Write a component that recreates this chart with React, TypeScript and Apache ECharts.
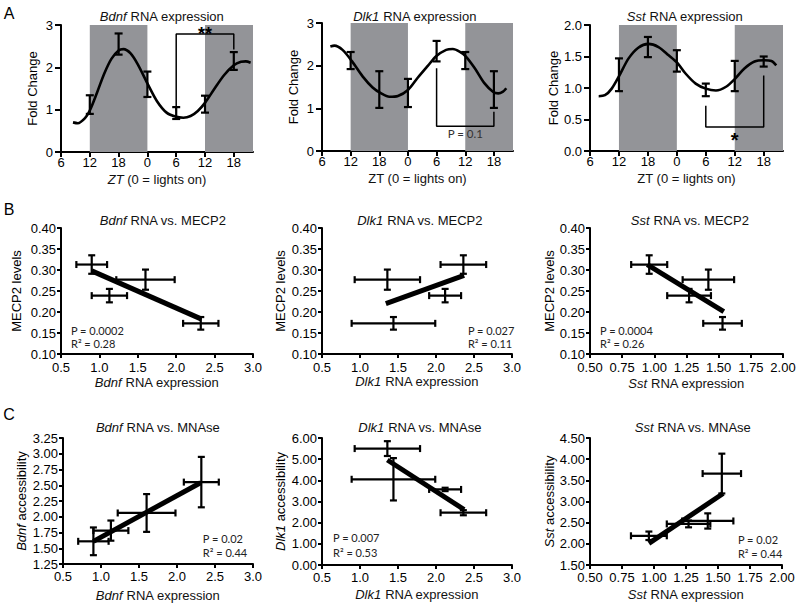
import React, { useEffect, useRef } from 'react';
import * as echarts from 'echarts';

// ---------- Panel A: RNA time course (hours counted from ZT6 of day 1) ----------
const sampleHours = [6, 12, 18, 24, 30, 36];
const ztTickHours = [0, 6, 12, 18, 24, 30, 36];
const ztTickLabels = ['6', '12', '18', '0', '6', '12', '18'];
const darkPhases = [[6, 18], [30, 40]];

const bdnfMean = [1.12, 2.55, 1.6, 0.92, 1.13, 2.15];
const bdnfSem = [0.22, 0.25, 0.3, 0.14, 0.2, 0.21];
const dlk1Mean = [2.12, 1.44, 1.36, 2.34, 2.12, 1.44];
const dlk1Sem = [0.2, 0.43, 0.33, 0.24, 0.2, 0.43];
const sstMean = [1.21, 1.65, 1.43, 0.97, 1.19, 1.42];
const sstSem = [0.26, 0.16, 0.17, 0.1, 0.24, 0.08];

// fitted rhythm curves
const bdnfFitHours = [2.5, 3.5, 5, 6, 7.5, 9, 10.5, 12, 13, 14.5, 16, 18, 20, 22, 24, 25.5, 27, 28.5, 30, 32, 34, 36, 37.5, 38.5, 39.5];
const bdnfFitValues = [0.7, 0.68, 0.8, 0.98, 1.4, 1.85, 2.2, 2.4, 2.43, 2.33, 2.07, 1.62, 1.2, 0.93, 0.83, 0.81, 0.85, 0.97, 1.16, 1.5, 1.82, 2.05, 2.13, 2.14, 2.11];
const dlk1FitHours = [1.75, 2.6, 4.3, 6.3, 8.5, 10.6, 12.4, 14.1, 15.9, 18, 20, 22.2, 23.9, 26, 27.4, 28.8, 30.1, 32, 34, 35.8, 36.9, 37.9, 38.6];
const dlk1FitValues = [2.45, 2.47, 2.37, 2.1, 1.75, 1.49, 1.35, 1.27, 1.29, 1.43, 1.71, 2.0, 2.22, 2.37, 2.39, 2.33, 2.22, 1.94, 1.59, 1.39, 1.35, 1.39, 1.47];
const sstFitHours = [1.8, 3.1, 4.5, 6.1, 8, 10, 12.1, 14.2, 16.3, 18.1, 19.8, 21.9, 24, 26.1, 28.2, 30.1, 32, 34.1, 36.1, 37.6, 38.6];
const sstFitValues = [0.87, 0.885, 0.99, 1.2, 1.47, 1.64, 1.7, 1.65, 1.52, 1.4, 1.23, 1.07, 0.99, 0.96, 1.02, 1.15, 1.31, 1.42, 1.44, 1.43, 1.36];

// ---------- Panels B and C: per time point (ZT6, ZT12, ZT0, ZT18) ----------
const mecp2Level = [0.313, 0.239, 0.277, 0.173];
const mecp2Sem = [0.022, 0.016, 0.024, 0.015];
const bdnfRna = [0.9, 1.13, 1.6, 2.32];
const bdnfRnaSem = [0.2, 0.23, 0.38, 0.23];
const dlk1Rna = [2.36, 2.12, 1.36, 1.44];
const dlk1RnaSem = [0.3, 0.21, 0.43, 0.55];
const sstRna = [0.96, 1.27, 1.42, 1.53];
const sstRnaSem = [0.14, 0.17, 0.2, 0.15];
const bdnfAccess = [1.61, 1.78, 2.06, 2.55];
const bdnfAccessSem = [0.22, 0.16, 0.3, 0.4];
const dlk1Access = [2.47, 3.57, 5.5, 4.05];
const dlk1AccessSem = [0.12, 0.08, 0.35, 1.0];
const sstAccess = [2.19, 2.47, 2.54, 3.66];
const sstAccessSem = [0.1, 0.08, 0.18, 0.47];

// regression lines (end points)
const bdnfMecp2FitX = [0.9, 2.33];
const bdnfMecp2FitY = [0.298, 0.183];
const dlk1Mecp2FitX = [1.34, 2.37];
const dlk1Mecp2FitY = [0.22, 0.287];
const sstMecp2FitX = [0.945, 1.54];
const sstMecp2FitY = [0.313, 0.201];
const bdnfMnaseFitX = [0.9, 2.31];
const bdnfMnaseFitY = [1.61, 2.54];
const dlk1MnaseFitX = [1.36, 2.37];
const dlk1MnaseFitY = [4.96, 2.62];
const sstMnaseFitX = [0.96, 1.54];
const sstMnaseFitY = [2.01, 3.19];

const FONT = '"Liberation Sans", Arial, sans-serif';
const STAT_FONT = 'Lato, "Open Sans", sans-serif';
const BAND = '#939498';

const italicRich = (size: number) => ({ i: { fontStyle: 'italic', fontWeight: 'normal', fontSize: size, fontFamily: FONT, color: '#000' } });

const timePanels = [
  {
    gene: 'Bdnf', grid: { left: 61, top: 25, width: 192, height: 127 },
    mean: bdnfMean, sem: bdnfSem, fitH: bdnfFitHours, fitV: bdnfFitValues,
    yMax: 3, yInt: 1, yDec: 0, yGap: 22, title: [162, 16], ztItalic: true, xNameY: 179,
    bracket: [[24, 0.98], [24, 2.79], [36, 2.79], [36, 2.42]],
    mark: { text: '**', at: [30, 2.78], size: 18, bold: true },
  },
  {
    gene: 'Dlk1', grid: { left: 322, top: 23, width: 191, height: 128 },
    mean: dlk1Mean, sem: dlk1Sem, fitH: dlk1FitHours, fitV: dlk1FitValues,
    yMax: 3, yInt: 1, yDec: 0, yGap: 22, title: [415, 16], ztItalic: false, xNameY: 178.5,
    bracket: [[24, 1.94], [24, 0.58], [36, 0.58], [36, 0.92]],
    mark: { text: 'P = 0.1', at: [30, 0.41], size: 11.5, bold: false },
  },
  {
    gene: 'Sst', grid: { left: 590, top: 25, width: 193, height: 126 },
    mean: sstMean, sem: sstSem, fitH: sstFitHours, fitV: sstFitValues,
    yMax: 2, yInt: 0.5, yDec: 1, yGap: 30, title: [685, 16], ztItalic: false, xNameY: 178,
    bracket: [[24, 0.72], [24, 0.38], [36, 0.38], [36, 1.2]],
    mark: { text: '*', at: [30, 0.175], size: 20, bold: true },
  },
];

const scatterPanels = [
  { gene: 'Bdnf', vs: 'MECP2', grid: { left: 61, top: 228, width: 192, height: 126 }, x: bdnfRna, xe: bdnfRnaSem, y: mecp2Level, ye: mecp2Sem, fx: bdnfMecp2FitX, fy: bdnfMecp2FitY,
    xMin: 0.5, xMax: 3, xInt: 0.5, xDec: 1, yMin: 0.1, yMax: 0.4, yInt: 0.05, yDec: 2, yName: 'MECP2 levels', yGap: 38, xNameY: 382, xMargin: 7,
    p: 'P = 0.0002', r2: 'R\u00b2 = 0.28', statAt: [0.63, 0.157, 0.126], title: [163, 220] },
  { gene: 'Dlk1', vs: 'MECP2', grid: { left: 322, top: 228, width: 190, height: 126 }, x: dlk1Rna, xe: dlk1RnaSem, y: mecp2Level, ye: mecp2Sem, fx: dlk1Mecp2FitX, fy: dlk1Mecp2FitY,
    xMin: 0.5, xMax: 3, xInt: 0.5, xDec: 1, yMin: 0.1, yMax: 0.4, yInt: 0.05, yDec: 2, yName: 'MECP2 levels', yGap: 35, xNameY: 381.5, xMargin: 7,
    p: 'P = 0.027', r2: 'R\u00b2 = 0.11', statAt: [2.42, 0.157, 0.126], title: [420, 220] },
  { gene: 'Sst', vs: 'MECP2', grid: { left: 590, top: 228, width: 193, height: 126 }, x: sstRna, xe: sstRnaSem, y: mecp2Level, ye: mecp2Sem, fx: sstMecp2FitX, fy: sstMecp2FitY,
    xMin: 0.5, xMax: 2, xInt: 0.25, xDec: 2, yMin: 0.1, yMax: 0.4, yInt: 0.05, yDec: 2, yName: 'MECP2 levels', yGap: 34, xNameY: 383, xMargin: 7,
    p: 'P = 0.0004', r2: 'R\u00b2 = 0.26', statAt: [0.578, 0.157, 0.126], title: [690, 220] },
  { gene: 'Bdnf', vs: 'MNAse', grid: { left: 63, top: 438, width: 190, height: 126 }, x: bdnfRna, xe: bdnfRnaSem, y: bdnfAccess, ye: bdnfAccessSem, fx: bdnfMnaseFitX, fy: bdnfMnaseFitY,
    xMin: 0.5, xMax: 3, xInt: 0.5, xDec: 1, yMin: 1.25, yMax: 3.25, yInt: 0.25, yDec: 2, yName: '{i|Bdnf} accessibility', yGap: 35, xNameY: 595, xMargin: 6,
    p: 'P = 0.02', r2: 'R\u00b2 = 0.44', statAt: [2.34, 1.66, 1.44], title: [158, 427] },
  { gene: 'Dlk1', vs: 'MNAse', grid: { left: 322, top: 438, width: 190, height: 127 }, x: dlk1Rna, xe: dlk1RnaSem, y: dlk1Access, ye: dlk1AccessSem, fx: dlk1MnaseFitX, fy: dlk1MnaseFitY,
    xMin: 0.5, xMax: 3, xInt: 0.5, xDec: 1, yMin: 0, yMax: 6, yInt: 1, yDec: 2, yName: '{i|Dlk1} accessibility', yGap: 35, xNameY: 594, xMargin: 6,
    p: 'P = 0.007', r2: 'R\u00b2 = 0.53', statAt: [0.645, 1.28, 0.61], title: [420, 427] },
  { gene: 'Sst', vs: 'MNAse', grid: { left: 590, top: 438, width: 192, height: 127 }, x: sstRna, xe: sstRnaSem, y: sstAccess, ye: sstAccessSem, fx: sstMnaseFitX, fy: sstMnaseFitY,
    xMin: 0.5, xMax: 2, xInt: 0.25, xDec: 2, yMin: 1.5, yMax: 4.5, yInt: 0.5, yDec: 2, yName: '{i|Sst} accessibility', yGap: 32, xNameY: 594, xMargin: 6,
    p: 'P = 0.02', r2: 'R\u00b2 = 0.44', statAt: [1.656, 2.11, 1.78], title: [693, 427] },
];

function errorBarSeries(idx: number, pts: number[][], cap: number) {
  return {
    type: 'custom', xAxisIndex: idx, yAxisIndex: idx, coordinateSystem: 'cartesian2d',
    data: pts, encode: { x: 0, y: 1 }, z: 4, silent: true,
    renderItem: (params: any, api: any) => {
      const x = api.value(0), y = api.value(1), ex = api.value(2), ey = api.value(3);
      const c = api.coord([x, y]);
      const st = { stroke: '#000', lineWidth: 2.2 };
      const ch: any[] = [];
      if (ey > 0) {
        const t = api.coord([x, y + ey]), b = api.coord([x, y - ey]);
        ch.push({ type: 'line', shape: { x1: c[0], y1: t[1], x2: c[0], y2: b[1] }, style: st });
        ch.push({ type: 'line', shape: { x1: c[0] - cap, y1: t[1], x2: c[0] + cap, y2: t[1] }, style: st });
        ch.push({ type: 'line', shape: { x1: c[0] - cap, y1: b[1], x2: c[0] + cap, y2: b[1] }, style: st });
      }
      if (ex > 0) {
        const l = api.coord([x - ex, y]), r = api.coord([x + ex, y]);
        ch.push({ type: 'line', shape: { x1: l[0], y1: c[1], x2: r[0], y2: c[1] }, style: st });
        ch.push({ type: 'line', shape: { x1: l[0], y1: c[1] - cap, x2: l[0], y2: c[1] + cap }, style: st });
        ch.push({ type: 'line', shape: { x1: r[0], y1: c[1] - cap, x2: r[0], y2: c[1] + cap }, style: st });
      }
      return { type: 'group', children: ch };
    },
  };
}

function textSeries(idx: number, items: { at: number[]; text: string; size: number; bold: boolean; font: string; color: string; align: string }[]) {
  return {
    type: 'custom', xAxisIndex: idx, yAxisIndex: idx, coordinateSystem: 'cartesian2d',
    data: items.map((it) => [it.at[0], it.at[1]]), encode: { x: 0, y: 1 }, z: 6, silent: true,
    renderItem: (params: any, api: any) => {
      const it = items[params.dataIndex];
      const c = api.coord([api.value(0), api.value(1)]);
      return {
        type: 'text', x: c[0], y: c[1],
        style: { text: it.text, fill: it.color, fontSize: it.size, fontFamily: it.font, fontWeight: it.bold ? 'bold' : 'normal', align: it.align, verticalAlign: 'middle' },
      };
    },
  };
}

function labelText(x: number, y: number, text: string, size: number, color: string) {
  return {
    type: 'text', x, y,
    style: { text, fontSize: size, fontFamily: FONT, fontWeight: 'normal', fill: color, align: 'center', verticalAlign: 'middle',
      rich: { i: { fontStyle: 'italic', fontWeight: 'normal', fontSize: size, fontFamily: FONT, fill: color } } },
  };
}

const axisLineStyle = { lineStyle: { color: '#000', width: 2 } };

function buildOption() {
  const grid: any[] = [], xAxis: any[] = [], yAxis: any[] = [], series: any[] = [], elements: any[] = [];
  let idx = 0;

  timePanels.forEach((p) => {
    const i = idx++;
    grid.push({ ...p.grid, containLabel: false, outerBoundsMode: 'none' });
    xAxis.push({
      type: 'value', gridIndex: i, min: 0, max: 40, interval: 6,
      axisLine: axisLineStyle, splitLine: { show: false },
      axisTick: { length: 5, lineStyle: { width: 2, color: '#000' }, customValues: ztTickHours },
      axisLabel: { fontSize: 13, fontFamily: FONT, color: '#000', margin: 4, customValues: ztTickHours,
        formatter: (v: number) => { const k = ztTickHours.indexOf(v); return k >= 0 ? ztTickLabels[k] : ''; } },
    });
    yAxis.push({
      type: 'value', gridIndex: i, min: 0, max: p.yMax, interval: p.yInt,
      name: 'Fold Change', nameLocation: 'middle', nameGap: p.yGap, nameRotate: 90,
      nameTextStyle: { fontSize: 13, fontWeight: 'normal', fontFamily: FONT, color: '#000' },
      axisLine: { show: true, ...axisLineStyle }, splitLine: { show: false },
      axisTick: { show: true, length: 6, lineStyle: { width: 2, color: '#000' } },
      axisLabel: { fontSize: 13, fontFamily: FONT, color: '#000', margin: 8, formatter: (v: number) => v.toFixed(p.yDec) },
    });
    // dark phase bands
    series.push({
      type: 'custom', xAxisIndex: i, yAxisIndex: i, coordinateSystem: 'cartesian2d', z: 1, silent: true,
      data: darkPhases, encode: { x: [0, 1] },
      renderItem: (params: any, api: any) => {
        const a = api.coord([api.value(0), p.yMax]);
        const b = api.coord([api.value(1), 0]);
        return { type: 'rect', shape: { x: a[0], y: a[1], width: b[0] - a[0], height: b[1] - a[1] }, style: { fill: BAND } };
      },
    });
    series.push({
      type: 'line', xAxisIndex: i, yAxisIndex: i, z: 3, smooth: 0.3, showSymbol: false, symbol: 'none', silent: true,
      data: p.fitH.map((h, k) => [h, p.fitV[k]]), lineStyle: { color: '#000', width: 2.6 },
    });
    series.push(errorBarSeries(i, sampleHours.map((h, k) => [h, p.mean[k], 0, p.sem[k]]), 4));
    series.push({
      type: 'line', xAxisIndex: i, yAxisIndex: i, z: 5, showSymbol: false, symbol: 'none', silent: true,
      data: p.bracket, lineStyle: { color: '#000', width: 1.5 },
    });
    series.push(textSeries(i, [{ at: p.mark.at, text: p.mark.text, size: p.mark.size, bold: p.mark.bold,
      font: p.mark.bold ? FONT : STAT_FONT, color: p.mark.bold ? '#000' : '#333', align: 'center' }]));
    elements.push(labelText(p.title[0], p.title[1], `{i|${p.gene}} RNA expression`, 13, '#111'));
    elements.push(labelText(p.grid.left + p.grid.width / 2, p.xNameY, p.ztItalic ? '{i|ZT} (0 = lights on)' : 'ZT (0 = lights on)', 13, '#111'));
  });

  scatterPanels.forEach((p) => {
    const i = idx++;
    grid.push({ ...p.grid, containLabel: false, outerBoundsMode: 'none' });
    xAxis.push({
      type: 'value', gridIndex: i, min: p.xMin, max: p.xMax, interval: p.xInt,
      axisLine: axisLineStyle, splitLine: { show: false },
      axisTick: { length: 4, lineStyle: { width: 2, color: '#000' } },
      axisLabel: { fontSize: 13, fontFamily: FONT, color: '#000', margin: p.xMargin, formatter: (v: number) => v.toFixed(p.xDec) },
    });
    yAxis.push({
      type: 'value', gridIndex: i, min: p.yMin, max: p.yMax, interval: p.yInt,
      name: p.yName, nameLocation: 'middle', nameGap: p.yGap, nameRotate: 90,
      nameTextStyle: { fontSize: 13, fontWeight: 'normal', fontFamily: FONT, color: '#000', rich: italicRich(13) },
      axisLine: { show: true, ...axisLineStyle }, splitLine: { show: false },
      axisTick: { show: true, length: 4, lineStyle: { width: 2, color: '#000' } },
      axisLabel: { fontSize: 13, fontFamily: FONT, color: '#000', margin: 5, formatter: (v: number) => v.toFixed(p.yDec) },
    });
    series.push(errorBarSeries(i, p.x.map((xv, k) => [xv, p.y[k], p.xe[k], p.ye[k]]), 3.5));
    series.push({
      type: 'line', xAxisIndex: i, yAxisIndex: i, z: 5, showSymbol: false, symbol: 'none', silent: true,
      data: p.fx.map((xv, k) => [xv, p.fy[k]]), lineStyle: { color: '#000', width: 5, cap: 'butt' },
    });
    series.push(textSeries(i, [
      { at: [p.statAt[0], p.statAt[1]], text: p.p, size: 11, bold: false, font: STAT_FONT, color: '#222', align: 'left' },
      { at: [p.statAt[0], p.statAt[2]], text: p.r2, size: 11, bold: false, font: STAT_FONT, color: '#222', align: 'left' },
    ]));
    elements.push(labelText(p.title[0], p.title[1], `{i|${p.gene}} RNA vs. ${p.vs}`, 13, '#111'));
    elements.push(labelText(p.grid.left + p.grid.width / 2, p.xNameY, `{i|${p.gene}} RNA expression`, 13, '#111'));
  });

  [['A', 13], ['B', 209], ['C', 414]].forEach(([t, y]) => {
    elements.push({ type: 'text', x: 9, y: y as number,
      style: { text: t as string, fontSize: 16, fontFamily: FONT, fill: '#000', align: 'center', verticalAlign: 'middle' } });
  });

  return {
    animation: false,
    backgroundColor: '#fff',
    grid, xAxis, yAxis, series,
    graphic: { elements },
  };
}

export default function App() {
  const ref = useRef<HTMLDivElement>(null);
  useEffect(() => {
    document.body.style.margin = '0';
    const chart = echarts.init(ref.current as HTMLDivElement, null, { renderer: 'svg' });
    chart.setOption(buildOption() as any);
    return () => chart.dispose();
  }, []);
  return <div ref={ref} style={{ width: 800, height: 604 }} />;
}
